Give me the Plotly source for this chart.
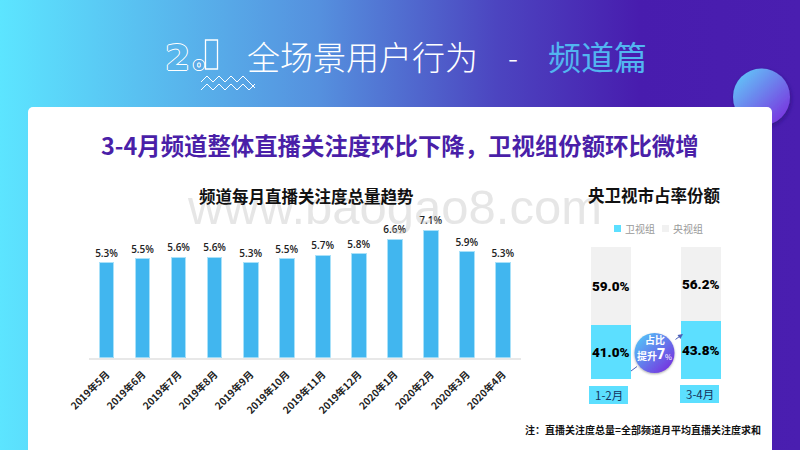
import base64
import plotly.graph_objects as go

months = ["2019年5月","2019年6月","2019年7月","2019年8月","2019年9月","2019年10月","2019年11月","2019年12月","2020年1月","2020年2月","2020年3月","2020年4月"]
attention = [5.3,5.5,5.6,5.6,5.3,5.5,5.7,5.8,6.6,7.1,5.9,5.3]
periods = ["1-2月","3-4月"]
satellite = [41.0,43.8]
central = [59.0,56.2]

W,H = 800,450
CJK = "Noto Sans CJK SC"
def px(x): return x/W
def py(y): return 1-y/H

bg_svg = f'''<svg xmlns="http://www.w3.org/2000/svg" width="{W}" height="{H}" viewBox="0 0 {W} {H}">
<defs>
<linearGradient id="g" x1="0" y1="0" x2="1" y2="0">
<stop offset="0" stop-color="#5ce5ff"/><stop offset="0.4" stop-color="#5590de"/>
<stop offset="0.62" stop-color="#4c45c0"/><stop offset="0.8" stop-color="#481cae"/><stop offset="1" stop-color="#4a1eb0"/>
</linearGradient>
<linearGradient id="c" x1="0" y1="0" x2="1" y2="1">
<stop offset="0" stop-color="#5fd5fb"/><stop offset="1" stop-color="#7c22dc"/>
</linearGradient>
<filter id="s" x="-20%" y="-20%" width="140%" height="140%"><feDropShadow dx="1" dy="2" stdDeviation="2" flood-color="#20106a" flood-opacity="0.55"/></filter>
</defs>
<rect width="{W}" height="{H}" fill="url(#g)"/>
<circle cx="761.5" cy="97" r="28.5" fill="url(#c)" filter="url(#s)"/>
<rect x="28" y="107" width="744" height="350" rx="5" fill="#fff"/>
<polyline points="201,82 207,76 213,82 219,76 225,82 231,76 237,82 243,76 249,82 255,88" fill="none" stroke="#fff" stroke-width="1"/>
<polyline points="201,90 207,84 213,90 219,84 225,90 231,84 237,90 243,84 249,90 255,84" fill="none" stroke="#fff" stroke-width="1"/>
</svg>'''
badge_svg = '''<svg xmlns="http://www.w3.org/2000/svg" width="48" height="48" viewBox="0 0 48 48">
<defs><linearGradient id="b" x1="0" y1="0" x2="1" y2="1"><stop offset="0" stop-color="#4fd3fb"/><stop offset="1" stop-color="#7a1fdc"/></linearGradient>
<filter id="t" x="-20%" y="-20%" width="140%" height="140%"><feDropShadow dx="0" dy="1" stdDeviation="1" flood-color="#555" flood-opacity="0.5"/></filter></defs>
<circle cx="24" cy="24" r="20" fill="url(#b)" filter="url(#t)"/></svg>'''
def uri(s): return "data:image/svg+xml;base64,"+base64.b64encode(s.encode()).decode()

LABEL_FONT = dict(family="Roboto",size=13.5,color="#000",weight=900)

fig = go.Figure()
fig.add_bar(x=months,y=attention,xaxis="x",yaxis="y",showlegend=False,width=0.4,
    marker=dict(color="#41b6ef",line=dict(color="#a9e1f9",width=1)),
    text=[f"{v:.1f}%" for v in attention],textposition="outside",cliponaxis=False,constraintext="none",textangle=0,
    textfont=dict(family="Open Sans",size=10,color="#222",weight=600),hoverinfo="skip")
fig.add_bar(x=periods,y=satellite,xaxis="x2",yaxis="y2",name="卫视组",width=0.444,showlegend=False,
    marker=dict(color="#5cdfff",line=dict(width=0)),constraintext="none",textangle=0,
    text=[f"{v:.1f}%" for v in satellite],textposition="inside",insidetextanchor="middle",
    textfont=LABEL_FONT,hoverinfo="skip")
fig.add_bar(x=periods,y=central,xaxis="x2",yaxis="y2",name="央视组",width=0.444,showlegend=False,
    marker=dict(color="#f1f1f1",line=dict(width=0)),constraintext="none",textangle=0,
    text=[f"{v:.1f}%" for v in central],textposition="inside",insidetextanchor="middle",
    textfont=LABEL_FONT,hoverinfo="skip")

def note(x,y,t,size,color="#000",weight=400,anchor="center",family=CJK,**kw):
    return dict(xref="paper",yref="paper",x=px(x),y=py(y),text=t,showarrow=False,xanchor=anchor,yanchor="middle",
                font=dict(family=family,size=size,color=color,weight=weight,**kw))
outline = "1px 0 0 #fff,-1px 0 0 #fff,0 1px 0 #fff,0 -1px 0 #fff"
anns = [
    note(394,207,"www.baogao8.com",49,"rgba(190,190,190,0.38)",family="Liberation Sans"),
    note(177,58,"2",36,"#59b4ea",700,family="DejaVu Sans",shadow=outline),
    note(199,64,"o",17,"#59a9e6",700,family="DejaVu Sans",shadow=outline),
    note(245,56,"全场景用户行为",33,"#fff",300,"left"),
    note(513,56,"-",30,"#fff",300),
    note(546,56,"频道篇",33,"#52b5f0",400,"left"),
    note(400,145,"3-4月频道整体直播关注度环比下降，卫视组份额环比微增",23.4,"#4a1fa8",700),
    note(306.7,196,"频道每月直播关注度总量趋势",16.5,"#111",700),
    note(654,195,"央卫视市占率份额",16.5,"#111",700),
    note(623,228.5,"卫视组",10,"#9a9a9a",400,"left"),
    note(671,228.5,"央视组",10,"#9a9a9a",400,"left"),
    note(608.5,395,"1-2月",11.5,"#16325c",400),
    note(699.5,394,"3-4月",11.5,"#16325c",400),
    note(654.5,339,"占比",10,"#fff",700),
    note(647,355,"提升",10,"#fff",700),
    note(661,354,"7",14,"#fff",900,family="Roboto"),
    note(668,356,"%",7.5,"#fff",400),
    note(763,429,"注：直播关注度总量=全部频道月平均直播关注度求和",10,"#111",700,"right"),
    dict(xref="paper",yref="paper",x=px(683),y=py(334),ax=-9,ay=6.5,
         showarrow=True,arrowhead=2,arrowsize=1,arrowwidth=1,arrowcolor="#4a5fb8",text=""),
]
shapes = [
    dict(type="line",xref="paper",yref="paper",x0=px(631),x1=px(637),y0=py(371),y1=py(366.5),line=dict(color="#4a5fb8",width=1)),
    dict(type="rect",xref="paper",yref="paper",x0=px(589),x1=px(628),y0=py(404),y1=py(386),fillcolor="#5cdfff",line=dict(width=0),layer="below"),
    dict(type="rect",xref="paper",yref="paper",x0=px(680),x1=px(719),y0=py(403),y1=py(385),fillcolor="#5cdfff",line=dict(width=0),layer="below"),
    dict(type="rect",xref="paper",yref="paper",x0=px(614),x1=px(621),y0=py(232),y1=py(225),fillcolor="#5cdfff",line=dict(width=0)),
    dict(type="rect",xref="paper",yref="paper",x0=px(662),x1=px(669),y0=py(232),y1=py(225),fillcolor="#f1f1f1",line=dict(width=0)),
    dict(type="rect",xref="paper",yref="paper",x0=px(205.5),x1=px(217.5),y0=py(69),y1=py(40),fillcolor="rgba(0,0,0,0)",line=dict(color="#fff",width=1.3)),
]
fig.update_layout(
    width=W,height=H,autosize=False,margin=dict(l=0,r=0,t=0,b=0,autoexpand=False),barmode="stack",showlegend=False,
    paper_bgcolor="rgba(0,0,0,0)",plot_bgcolor="rgba(0,0,0,0)",
    font=dict(family=CJK),
    xaxis=dict(domain=[px(88.7),px(521)],anchor="y",type="category",showline=True,linecolor="#e8e8e8",linewidth=2,
               ticks="",tickangle=-45,ticklabelstandoff=5,tickfont=dict(family=CJK,size=10,color="#222",weight=600),showgrid=False,zeroline=False),
    yaxis=dict(domain=[py(357.7),py(214)],anchor="x",range=[0,8],visible=False),
    xaxis2=dict(domain=[px(565.7),px(745.7)],anchor="y2",type="category",showticklabels=False,ticks="",showline=False,showgrid=False,zeroline=False),
    yaxis2=dict(domain=[py(379),py(247)],anchor="x2",range=[0,100],visible=False),
    annotations=anns,shapes=shapes,
    images=[
        dict(source=uri(bg_svg),xref="paper",yref="paper",x=0,y=1,sizex=1,sizey=1,sizing="stretch",xanchor="left",yanchor="top",layer="below"),
        dict(source=uri(badge_svg),xref="paper",yref="paper",x=px(630.5),y=py(329),sizex=48/W,sizey=48/H,sizing="stretch",xanchor="left",yanchor="top",layer="above"),
    ],
)
fig.write_html("out.html",config=dict(displayModeBar=False),post_script="document.body.style.margin='0';document.body.style.overflow='hidden';")
